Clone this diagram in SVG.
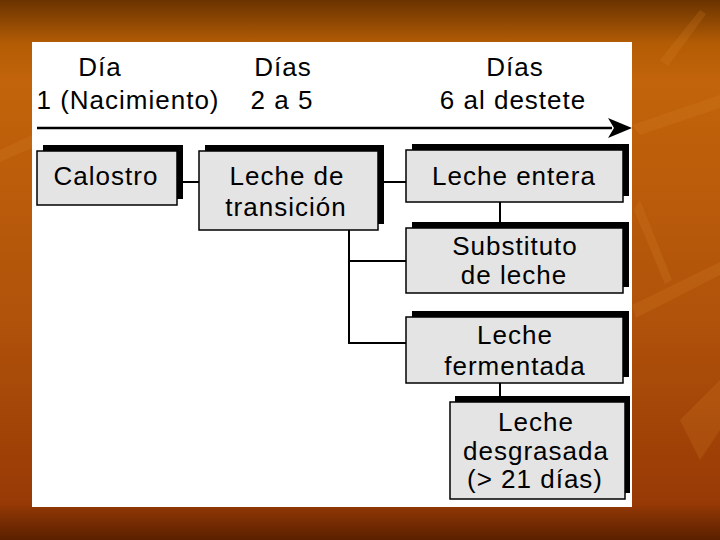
<svg xmlns="http://www.w3.org/2000/svg" width="720" height="540" viewBox="0 0 720 540">
  <defs>
    <linearGradient id="bg" x1="0" y1="0" x2="0" y2="1">
      <stop offset="0" stop-color="#6a3300"/>
      <stop offset="0.08" stop-color="#b35c05"/>
      <stop offset="0.15" stop-color="#c2640a"/>
      <stop offset="0.6" stop-color="#b0520a"/>
      <stop offset="0.93" stop-color="#983a05"/>
      <stop offset="1" stop-color="#5a2000"/>
    </linearGradient>
    <style>
      .box { fill: #e4e4e4; stroke: #000; stroke-width: 1.5; }
      .shadow { fill: #000; }
      .t { font-family: "Liberation Sans", Arial, sans-serif; font-size: 26px; letter-spacing: 1px; fill: #000; text-anchor: middle; }
      .conn line { stroke: #000; stroke-width: 2; }
      .streak { fill: #e08a30; opacity: 0.18; }
    </style>
  </defs>

  <rect x="0" y="0" width="720" height="540" fill="url(#bg)"/>
  <!-- background streaks -->
  <polygon class="streak" points="632,125 720,95 720,108 640,135"/>
  <polygon class="streak" points="632,305 720,262 720,275 636,318"/>
  <polygon class="streak" points="640,200 672,280 665,284 634,210"/>
  <polygon class="streak" points="660,60 700,10 706,14 668,66"/>
  <polygon class="streak" points="0,150 32,135 32,148 0,162"/>
  <polygon class="streak" points="680,420 720,380 720,430 700,460"/>

  <!-- white panel -->
  <rect x="32" y="42" width="600" height="465" fill="#ffffff"/>

  <!-- header -->
  <g id="header">
    <text class="t" x="100" y="76">Día</text>
    <text class="t" x="128" y="109">1 (Nacimiento)</text>
    <text class="t" x="283" y="76">Días</text>
    <text class="t" x="282" y="109">2 a 5</text>
    <text class="t" x="515" y="76">Días</text>
    <text class="t" x="513" y="109">6 al destete</text>
  </g>

  <!-- connectors -->
  <g id="connectors" class="conn">
    <line x1="37" y1="128" x2="612" y2="128" style="stroke-width:2.5"/>
    <polygon points="608,118 632,128 608,138 614,128" fill="#000"/>
    <line x1="177" y1="182" x2="199" y2="182"/>
    <line x1="378" y1="182" x2="406" y2="182"/>
    <line x1="349" y1="230" x2="349" y2="344"/>
    <line x1="348" y1="261" x2="406" y2="261"/>
    <line x1="348" y1="343" x2="406" y2="343"/>
    <line x1="500" y1="202" x2="500" y2="228"/>
    <line x1="500" y1="383" x2="500" y2="402"/>
  </g>

  <g id="calostro">
    <rect class="shadow" x="43" y="145" width="140" height="54"/>
    <rect class="box" x="37" y="151" width="140" height="54"/>
    <text class="t" x="106" y="185">Calostro</text>
  </g>

  <g id="transicion">
    <rect class="shadow" x="205" y="145" width="179" height="79"/>
    <rect class="box" x="199" y="151" width="179" height="79"/>
    <text class="t" x="287" y="185">Leche de</text>
    <text class="t" x="286" y="216">transición</text>
  </g>

  <g id="entera">
    <rect class="shadow" x="412" y="144" width="217" height="52"/>
    <rect class="box" x="406" y="150" width="217" height="52"/>
    <text class="t" x="514" y="185">Leche entera</text>
  </g>

  <g id="substituto">
    <rect class="shadow" x="412" y="222" width="217" height="65"/>
    <rect class="box" x="406" y="228" width="217" height="65"/>
    <text class="t" x="515" y="255">Substituto</text>
    <text class="t" x="514" y="284">de leche</text>
  </g>

  <g id="fermentada">
    <rect class="shadow" x="412" y="311" width="217" height="66"/>
    <rect class="box" x="406" y="317" width="217" height="66"/>
    <text class="t" x="515" y="344">Leche</text>
    <text class="t" x="515" y="375">fermentada</text>
  </g>

  <g id="desgrasada">
    <rect class="shadow" x="455" y="396" width="175" height="97"/>
    <rect class="box" x="450" y="402" width="175" height="97"/>
    <text class="t" x="536" y="431">Leche</text>
    <text class="t" x="536" y="460">desgrasada</text>
    <text class="t" x="535" y="488">(&gt; 21 días)</text>
  </g>
</svg>
